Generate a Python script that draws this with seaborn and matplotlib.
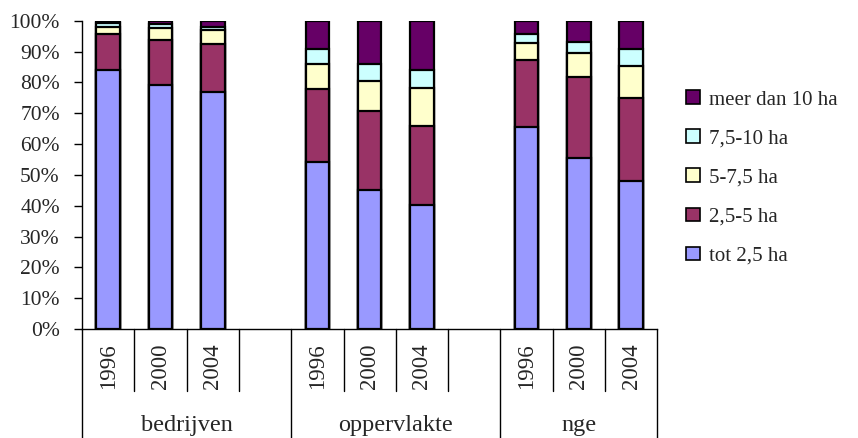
import matplotlib
matplotlib.use("Agg")
import matplotlib.pyplot as plt
from matplotlib.patches import Patch
from matplotlib.ticker import FuncFormatter
import numpy as np
import pandas as pd
import seaborn as sns

# Size-class shares (%) per bar: bedrijven, oppervlakte, nge x 1996/2000/2004
groups = ["bedrijven", "oppervlakte", "nge"]
years = ["1996", "2000", "2004"]
tot_2_5 = [84.0, 79.1, 76.9, 54.1, 45.1, 40.2, 65.6, 55.4, 48.1]
van_2_5_tot_5 = [11.7, 14.6, 15.7, 23.7, 25.7, 25.6, 21.7, 26.2, 26.7]
van_5_tot_7_5 = [2.4, 3.8, 4.4, 8.2, 9.7, 12.3, 5.4, 8.0, 10.5]
van_7_5_tot_10 = [1.0, 1.3, 1.1, 4.8, 5.5, 5.9, 3.0, 3.6, 5.4]
meer_dan_10 = [0.9, 1.2, 1.9, 9.2, 14.0, 16.0, 4.3, 6.8, 9.3]

series_labels = ["tot 2,5 ha", "2,5-5 ha", "5-7,5 ha", "7,5-10 ha", "meer dan 10 ha"]
series_colors = ["#9999FF", "#993366", "#FFFFCC", "#CCFFFF", "#660066"]
series_values = [tot_2_5, van_2_5_tot_5, van_5_tot_7_5, van_7_5_tot_10, meer_dan_10]

# Category slots: three bars per group plus an empty spacer slot between groups
order = []
for gi, g in enumerate(groups):
    for y in years:
        order.append(f"{g} {y}")
    if gi < len(groups) - 1:
        order.append(f"_gap{gi}")

bar_slots = [f"{g} {y}" for g in groups for y in years]
cum = np.cumsum(np.array(series_values), axis=0)
df = pd.DataFrame({"slot": bar_slots})
for i, lab in enumerate(series_labels):
    df[lab] = cum[i]

sns.set_style("white")
plt.rcParams["font.family"] = ["Liberation Serif", "DejaVu Serif"]

fig = plt.figure(figsize=(8.58, 4.38), dpi=100)
ax = fig.add_axes([82 / 858, (438 - 329) / 438, 575.3 / 858, 308.3 / 438])

# Stacked bars: draw cumulative totals from the top series downward
for i in reversed(range(len(series_labels))):
    sns.barplot(data=df, x="slot", y=series_labels[i], order=order,
                color=series_colors[i], saturation=1, width=0.45,
                edgecolor="black", linewidth=1.6, errorbar=None, ax=ax)

ax.set_xlim(-0.5, len(order) - 0.5)
ax.set_ylim(0, 100)
ax.set_yticks(np.arange(0, 101, 10))
ax.yaxis.set_major_formatter(FuncFormatter(lambda v, p: f"{v:.0f}%"))
ax.tick_params(axis="y", direction="out", length=6, width=1, color="black",
               labelsize=15.5, pad=10, left=True)
ax.set_xticks([])
ax.set_xlabel("")
ax.set_ylabel("")
for s in ["top", "right"]:
    ax.spines[s].set_visible(False)
for s in ["left", "bottom"]:
    ax.spines[s].set_visible(True)
    ax.spines[s].set_color("black")
    ax.spines[s].set_linewidth(1)

# Two-level category axis below the plot
tr = ax.get_xaxis_transform()
short_y = -62 / 308.3
long_y = -109 / 308.3
group_edges = [-0.5, 3.5, 7.5, len(order) - 0.5]
for b in np.arange(-0.5, len(order), 1.0):
    bottom = long_y if any(abs(b - e) < 1e-6 for e in group_edges) else short_y
    ax.plot([b, b], [0, bottom], transform=tr, color="black", lw=1, clip_on=False)

for idx, name in enumerate(order):
    if name.startswith("_gap"):
        continue
    ax.text(idx, -37.5 / 308.3, name.split(" ")[1], transform=tr, rotation=90,
            ha="center", va="center", fontsize=16.5)

for gi, g in enumerate(groups):
    center = (group_edges[gi] + group_edges[gi + 1]) / 2
    ax.text(center, -97 / 308.3, g, transform=tr, ha="center", va="center",
            fontsize=17.5)

# Legend, largest class on top
handles = [Patch(facecolor=c, edgecolor="black", linewidth=1.2)
           for c in series_colors][::-1]
fig.legend(handles, series_labels[::-1], loc="upper left",
           bbox_to_anchor=(678 / 858, (438 - 82) / 438), frameon=False,
           fontsize=15, handlelength=0.65, handleheight=0.65,
           handletextpad=0.45, labelspacing=0.95, borderaxespad=0)

fig.savefig("out.png", dpi=100)
